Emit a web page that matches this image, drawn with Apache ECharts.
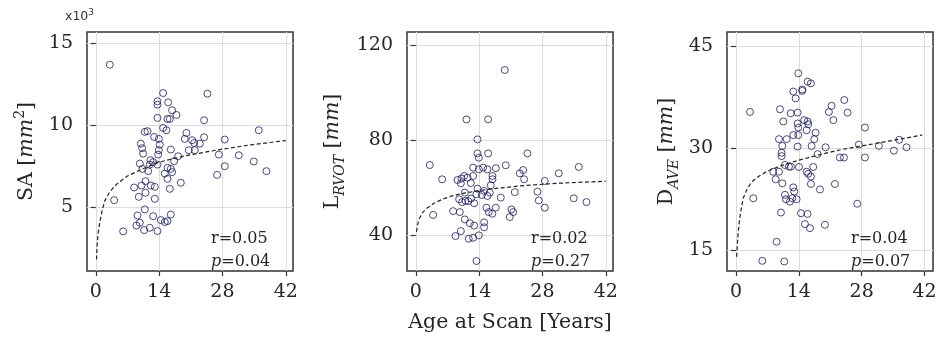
<!DOCTYPE html>
<html><head><meta charset="utf-8">
<script src="https://cdn.jsdelivr.net/npm/echarts@6/dist/echarts.min.js"></script>
<style>html,body{margin:0;padding:0;background:#fff}#c{width:942px;height:341px}</style>
</head><body><div id="c"></div>
<script>
// ---- tick labels ----
const ageTicks = [0, 14, 28, 42];
const saTicks = [5, 10, 15];
const lrvotTicks = [40, 80, 120];
const daveTicks = [15, 30, 45];

// ---- panel 1: SA (x10^3 mm^2) ----
const saAge = [3.09,14.88,24.68,13.63,13.63,15.99,16.87,17.83,15.84,16.36,13.63,23.95,14.88,15.62,10.83,11.42,20.04,19.67,12.89,13.93,9.95,14.15,21.29,21.74,22.99,23.95,28.51,36.03,10.24,16.58,13.93,10.46,13.78,21.88,20.56,18.2,27.19,31.61,34.92,28.51,37.73,26.82,9.73,12.08,12.67,11.94,13.63,17.31,10.32,11.57,15.25,15.84,16.58,16.87,15.84,18.79,8.47,10.1,12.16,13.04,10.98,16.36,9.5,10.98,13.04,4.05,10.83,9.21,12.67,14.37,15.25,15.84,16.58,8.99,9.73,10.68,11.94,13.63,6.04];
const saVal = [13.7,11.97,11.93,11.47,11.26,11.4,10.92,10.63,10.39,10.39,10.45,10.31,9.84,9.7,9.6,9.64,9.53,9.17,9.29,9.17,8.88,8.82,9.09,8.92,8.88,9.27,9.13,9.7,8.6,8.52,8.48,8.27,8.21,8.48,8.48,8.11,8.21,8.17,7.79,7.5,7.2,6.97,7.66,7.87,7.75,7.6,7.6,7.81,7.34,7.2,7.05,7.4,7.34,7.14,6.73,6.49,6.2,6.32,6.32,6.24,6.59,6.12,5.63,5.88,5.51,5.43,4.86,4.49,4.45,4.21,4.09,4.15,4.55,3.88,4.05,3.6,3.74,3.54,3.52];
const saFitAge = [0.15,0.3,0.5,0.9,1.4,2,3,4.2,5.5,7,10,14,20,27,34,42];
const saFitVal = [1.8,2.7,3.4,4.1,4.8,5.4,5.9,6.3,6.6,6.9,7.3,7.75,8.15,8.5,8.8,9.07];

// ---- panel 2: L_RVOT (mm) ----
const lrAge = [19.67,11.2,15.99,13.63,13.63,13.93,15.99,24.68,3.09,12.67,13.93,14.88,15.84,19.89,23.73,22.99,23.95,31.61,36.03,28.51,5.82,9.21,9.95,10.68,11.42,12.67,12.16,16.95,16.95,16.58,13.63,15.1,16.36,15.84,10.83,21.88,26.89,9.58,10.24,10.98,12.89,18.79,27.19,28.51,34.92,37.73,3.83,8.25,9.73,15.62,16.14,16.93,17.67,21.15,21.54,20.78,10.83,11.94,12.89,15.1,15.1,9.95,8.77,11.7,12.67,13.93,13.41,17.7,13.4,11.6,10.1,14.6,12.2];
const lrVal = [109.6,88.8,88.8,80.4,74.5,72.7,74.5,74.5,69.6,68.5,67.8,68.5,67.8,69.5,67.5,66.1,63.6,66.1,68.8,62.9,63.6,63.3,61.9,65.0,64.3,65.0,62.0,65.0,63.6,61.05,59.65,58.7,58.0,56.6,58.0,58.2,58.4,55.2,54.0,54.5,53.5,55.9,54.7,51.65,55.6,54.0,48.6,50.2,49.8,51.65,49.8,49.1,51.65,50.9,49.8,47.7,46.7,45.1,44.1,45.5,43.4,41.8,39.7,38.6,39.0,40.0,29.2,68.3,57.3,54.4,63.9,57.0,55.5];
const lrFitAge = [0.15,0.3,0.5,0.9,1.5,2.5,4,6,8,11,16,23,31,42];
const lrFitVal = [41.5,43.5,45.3,47.5,49.6,51.5,53.5,55.3,56.6,57.9,59.4,60.8,61.9,62.8];

// ---- panel 3: D_AVE (mm) ----
const daAge = [13.88,15.96,16.7,14.77,14.77,12.77,13.29,24.13,21.3,20.7,24.87,3.12,9.8,12.2,13.73,10.54,21.7,13.73,15.2,15.96,16.11,13.88,28.73,15.74,17.74,12.77,13.88,17.45,9.58,11.29,10.32,13.73,16.85,19.97,27.39,31.85,36.38,35.19,38.0,10.17,10.17,18.19,23.16,24.05,28.73,10.91,11.8,12.24,14.03,17.22,8.31,9.58,15.74,16.1,16.7,8.83,10.32,16.7,22.05,18.71,12.77,12.99,10.91,11.14,12.02,12.55,13.51,3.86,27.02,10.02,14.48,15.96,15.37,16.48,19.82,9.06,5.86,10.76];
const daVal = [40.98,39.75,39.5,38.6,38.4,38.3,37.3,37.06,36.2,35.3,35.2,35.3,35.7,35.1,35.2,33.9,34.1,33.6,34.1,33.9,33.5,33.0,33.0,32.6,32.25,31.9,31.9,31.3,31.3,31.3,30.3,30.2,30.3,30.1,30.5,30.3,31.2,29.6,30.1,29.3,28.8,29.1,28.6,28.6,28.6,27.5,27.25,27.25,27.2,27.2,26.5,26.5,26.5,26.2,25.8,25.4,24.8,24.7,24.7,23.9,24.2,23.6,23.1,22.45,22.1,22.6,22.45,22.6,21.8,20.5,20.4,20.3,18.8,18.2,18.7,16.2,13.4,13.3];
const daFitAge = [0.15,0.3,0.5,0.7,1.0,1.6,2.5,3.5,5,7,9,11,14,18,23,28,34,41.5];
const daFitVal = [14.0,15.7,17.6,18.9,20.4,22.6,24.0,25.0,25.8,26.6,27.1,27.6,28.2,28.9,29.7,30.3,31.0,31.9];

// ---- statistics text ----
const rVals = ['0.05', '0.02', '0.04'];
const pVals = ['0.04', '0.27', '0.07'];

const SERIF = 'DejaVu Serif';
const TXT = '#262626';
const zip = (a, b) => a.map((v, i) => [v, b[i]]);

const grids = [
  { left: 87, top: 32, width: 206, height: 239 },
  { left: 407, top: 32, width: 206, height: 239 },
  { left: 727, top: 32, width: 206, height: 239 }
];
const xRanges = [[-1.95, 43.6], [-1.95, 43.6], [-2.0, 43.9]];
const yRanges = [[1.1, 15.7], [25.0, 125.6], [11.9, 47.06]];
const yTicks = [saTicks, lrvotTicks, daveTicks];
const NF = 20.5;
const richName = {
  n: { fontFamily: SERIF, fontSize: NF, color: TXT, lineHeight: 28 },
  i: { fontFamily: SERIF, fontSize: NF, color: TXT, fontStyle: 'italic', lineHeight: 28 },
  sup: { fontFamily: SERIF, fontSize: 14, color: TXT, lineHeight: 13, verticalAlign: 'top' },
  sub: { fontFamily: SERIF, fontSize: 14, color: TXT, fontStyle: 'italic', lineHeight: 17, verticalAlign: 'bottom' }
};
const yNames = [
  '{n|SA [}{i|mm}{sup|2}{n|]}',
  '{n|L}{sub|RVOT}{n| [}{i|mm}{n|]}',
  '{n|D}{sub|AVE}{n| [}{i|mm}{n|]}'
];
const yNameGaps = [46, 60, 46];

const xAxes = [], yAxes = [], series = [];
for (let k = 0; k < 3; k++) {
  xAxes.push({
    type: 'value', gridIndex: k, min: xRanges[k][0], max: xRanges[k][1],
    name: k === 1 ? 'Age at Scan [Years]' : '',
    nameLocation: 'middle', nameGap: 41,
    nameTextStyle: { fontFamily: SERIF, fontSize: NF, color: TXT },
    axisLine: { show: false },
    axisTick: { show: true, inside: false, length: 5, customValues: ageTicks, lineStyle: { color: '#333', width: 1.2 } },
    axisLabel: { customValues: ageTicks, fontFamily: SERIF, fontSize: 19, color: TXT, margin: 12 },
    splitLine: { show: true, lineStyle: { color: '#dcdcdc', width: 1 } }
  });
  yAxes.push({
    type: 'value', gridIndex: k, min: yRanges[k][0], max: yRanges[k][1],
    name: yNames[k], nameLocation: 'middle', nameRotate: 90, nameGap: yNameGaps[k],
    nameTextStyle: { fontFamily: SERIF, fontSize: NF, color: TXT, rich: richName },
    axisLine: { show: false },
    axisTick: { show: true, inside: false, length: 5, customValues: yTicks[k], lineStyle: { color: '#333', width: 1.2 } },
    axisLabel: { customValues: yTicks[k], fontFamily: SERIF, fontSize: 19, color: TXT, margin: 14 },
    splitLine: { show: true, lineStyle: { color: '#dcdcdc', width: 1 } }
  });
}
const scatterSets = [zip(saAge, saVal), zip(lrAge, lrVal), zip(daAge, daVal)];
const fitSets = [zip(saFitAge, saFitVal), zip(lrFitAge, lrFitVal), zip(daFitAge, daFitVal)];
for (let k = 0; k < 3; k++) {
  series.push({
    type: 'scatter', xAxisIndex: k, yAxisIndex: k, data: scatterSets[k],
    symbol: 'circle', symbolSize: 7,
    itemStyle: { color: 'rgba(255,255,255,0)', borderColor: '#1e1e5a', borderWidth: 1 },
    z: 3
  });
  series.push({
    type: 'line', xAxisIndex: k, yAxisIndex: k, data: fitSets[k],
    smooth: false, showSymbol: false, symbol: 'none',
    lineStyle: { color: '#222', width: 1.2, type: [4, 2.5] },
    z: 4
  });
}

const graphics = [];
for (let k = 0; k < 3; k++) {
  const gx = grids[k].left + 124;
  graphics.push({
    type: 'text', left: gx, top: 231, z: 10,
    style: { text: 'r=' + rVals[k], fontFamily: SERIF, fontSize: 16, fill: TXT }
  });
  graphics.push({
    type: 'text', left: gx, top: 254, z: 10,
    style: {
      text: '{i|p}=' + pVals[k], fontFamily: SERIF, fontSize: 16, fill: TXT,
      rich: { i: { fontFamily: SERIF, fontSize: 16, fontStyle: 'italic', fill: TXT, color: TXT } }
    }
  });
}
graphics.push({
  type: 'text', left: 65, top: 8, z: 10,
  style: {
    text: '{a|x10}{s|3}', fill: '#333',
    rich: {
      a: { fontFamily: 'DejaVu Sans', fontSize: 12.5, color: '#333', lineHeight: 17 },
      s: { fontFamily: 'DejaVu Sans', fontSize: 9, color: '#333', lineHeight: 9, verticalAlign: 'top' }
    }
  }
});

const chart = echarts.init(document.getElementById('c'), null, { renderer: 'canvas' });
chart.setOption({
  animation: false,
  backgroundColor: '#fff',
  grid: grids.map(g => Object.assign({ show: true, borderColor: '#333', borderWidth: 1.5, backgroundColor: 'transparent' }, g)),
  xAxis: xAxes,
  yAxis: yAxes,
  series: series,
  graphic: graphics
});
</script>
</body></html>
